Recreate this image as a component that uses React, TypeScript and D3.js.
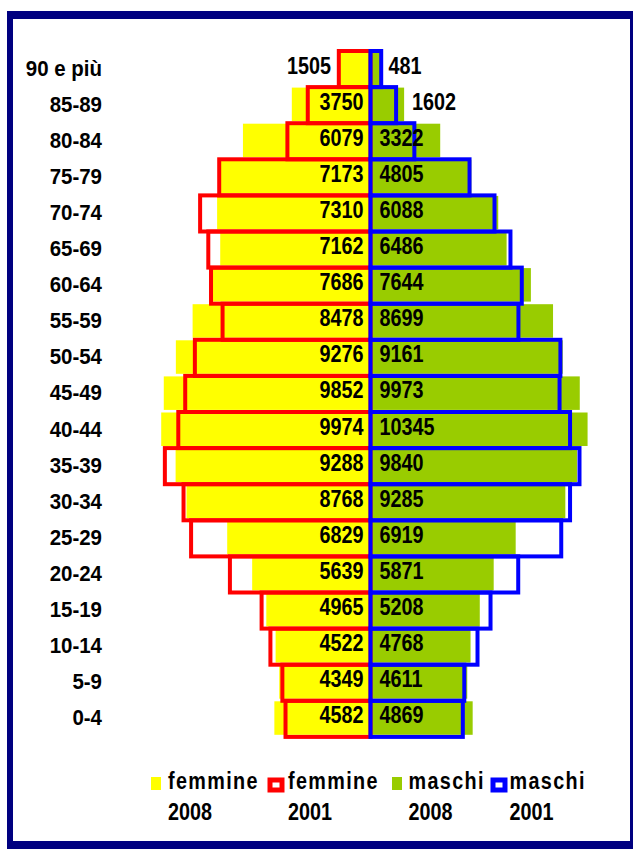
import React from "react";
import * as d3 from "d3";

const ages = ["90 e più", "85-89", "80-84", "75-79", "70-74", "65-69", "60-64", "55-59", "50-54", "45-49", "40-44", "35-39", "30-34", "25-29", "20-24", "15-19", "10-14", "5-9", "0-4"];
const femmine2008 = [1505, 3750, 6079, 7173, 7310, 7162, 7686, 8478, 9276, 9852, 9974, 9288, 8768, 6829, 5639, 4965, 4522, 4349, 4582];
const maschi2008 = [481, 1602, 3322, 4805, 6088, 6486, 7644, 8699, 9161, 9973, 10345, 9840, 9285, 6919, 5871, 5208, 4768, 4611, 4869];
const femmine2001 = [1510, 2990, 3960, 7210, 8120, 7730, 7600, 7050, 8370, 8830, 9160, 9800, 8910, 8550, 6700, 5190, 4770, 4200, 4050];
const maschi2001 = [510, 1220, 2090, 4720, 5910, 6670, 7210, 7050, 9050, 9010, 9510, 9960, 9510, 9090, 7040, 5720, 5100, 4470, 4400];

const legendItems = [
  { label: "femmine", year: "2008", kind: "fill", color: "#FFFF00" },
  { label: "femmine", year: "2001", kind: "outline", color: "#FF0000" },
  { label: "maschi", year: "2008", kind: "fill", color: "#99CC00" },
  { label: "maschi", year: "2001", kind: "outline", color: "#0000FF" },
];

const W = 633;
const H = 849;
const FONT = "'Liberation Sans', Arial, Helvetica, sans-serif";

export default function App() {
  const x = d3.scaleLinear().domain([-12000, 12000]).range([118.7, 622.3]);
  const y = d3.scaleBand<string>().domain(ages).range([51, 51 + 19 * 36.1]).padding(0);
  const bw = y.bandwidth();
  const x0 = x(0);
  const fillH = bw - 2.6;

  const legendPos = [151, 270, 392, 493];
  const legendTextX = [168, 288, 408.5, 509.5];

  return (
    <svg
      width={W}
      height={H}
      style={{ position: "absolute", left: 0, top: 0, background: "#fff" }}
      fontFamily={FONT}
    >
      {/* frame */}
      <rect x={0} y={0} width={W} height={H} fill="#fff" />
      <rect x={7} y={11} width={626} height={8} fill="#000080" />
      <rect x={7} y={11} width={6} height={838} fill="#000080" />
      <rect x={630} y={11} width={3} height={838} fill="#000080" />
      <rect x={7} y={841} width={626} height={8} fill="#000080" />

      {/* 2008 filled bars */}
      {ages.map((a, i) => (
        <rect key={"f8" + a} x={x(-femmine2008[i])} y={(y(a) as number) + 0.5} width={x0 - x(-femmine2008[i])} height={fillH} fill="#FFFF00" />
      ))}
      {ages.map((a, i) => (
        <rect key={"m8" + a} x={x0} y={(y(a) as number) + 0.5} width={x(maschi2008[i]) - x0} height={fillH} fill="#99CC00" />
      ))}

      {/* 2001 outline bars */}
      {ages.map((a, i) => (
        <rect key={"f1" + a} x={x(-femmine2001[i])} y={y(a) as number} width={x0 - x(-femmine2001[i])} height={bw} fill="none" stroke="#FF0000" strokeWidth={4} />
      ))}
      {ages.map((a, i) => (
        <rect key={"m1" + a} x={x0} y={y(a) as number} width={x(maschi2001[i]) - x0} height={bw} fill="none" stroke="#0000FF" strokeWidth={4} />
      ))}

      {/* value labels */}
      {ages.map((a, i) => {
        const v = femmine2008[i];
        const w = x0 - x(-v);
        const inside = w > 52;
        const tx = inside ? x0 - 7 : x(-v) - 8;
        const ty = (y(a) as number) + bw / 2 + 4.5;
        return (
          <g key={"fl" + a} transform={`translate(${tx},${ty}) scale(0.86,1)`}>
            <text textAnchor="end" fontSize={23} fontWeight="bold" fill="#000">{v}</text>
          </g>
        );
      })}
      {ages.map((a, i) => {
        const v = maschi2008[i];
        const w = x(v) - x0;
        const inside = w > 52;
        const tx = inside ? x0 + 9 : x(v) + 8;
        const ty = (y(a) as number) + bw / 2 + 4.5;
        return (
          <g key={"ml" + a} transform={`translate(${tx},${ty}) scale(0.86,1)`}>
            <text textAnchor="start" fontSize={23} fontWeight="bold" fill="#000">{v}</text>
          </g>
        );
      })}

      {/* category labels */}
      {ages.map((a) => (
        <g key={"c" + a} transform={`translate(102,${(y(a) as number) + bw / 2 + 6.5})`}>
          <g transform="scale(0.91,1)">
            <text textAnchor="end" fontSize={22.5} fontWeight="bold" fill="#000">{a}</text>
          </g>
        </g>
      ))}

      {/* legend */}
      {legendItems.map((it, i) => (
        <g key={"lg" + i}>
          {it.kind === "fill" ? (
            <rect x={legendPos[i]} y={777} width={10} height={13} fill={it.color} />
          ) : (
            <rect x={legendPos[i]} y={780} width={12} height={10} fill="#fff" stroke={it.color} strokeWidth={5} />
          )}
          <g transform={`translate(${legendTextX[i]},788.5) scale(0.86,1)`}>
            <text fontSize={23} fontWeight="bold" letterSpacing={1.6} fill="#000">{it.label}</text>
          </g>
          <g transform={`translate(${legendTextX[i]},820) scale(0.86,1)`}>
            <text fontSize={23} fontWeight="bold" fill="#000">{it.year}</text>
          </g>
        </g>
      ))}
    </svg>
  );
}
